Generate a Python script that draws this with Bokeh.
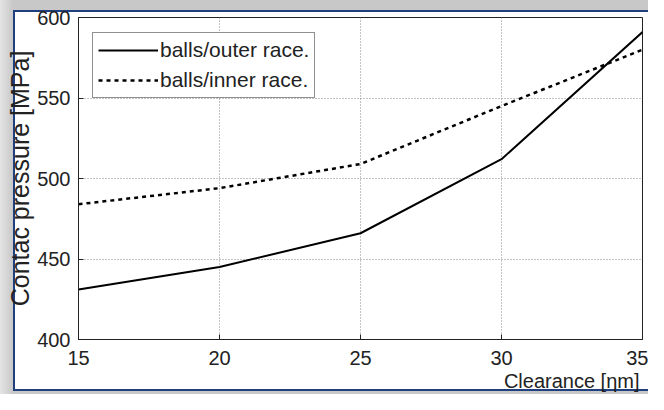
from bokeh.plotting import figure
from bokeh.models import FixedTicker, Legend, LegendItem, Range1d, Title
from bokeh.embed import file_html
from bokeh.resources import INLINE

clearance = [15, 20, 25, 30, 35]
outer_race = [431, 445, 466, 512, 591]
inner_race = [484, 494, 509, 545, 580]
x_ticks = [15, 20, 25, 30, 35]
y_ticks = [400, 450, 500, 550, 600]

FONT = "Liberation Sans"
NAVY = "#1f3f7f"

p = figure(width=648, height=394, output_backend="svg", toolbar_location=None,
           x_range=Range1d(15, 35), y_range=Range1d(400, 600),
           min_border_left=78, min_border_top=17, min_border_right=6, min_border_bottom=55)

p.border_fill_alpha = 0
p.background_fill_color = "white"
p.outline_line_color = "#222222"
p.outline_line_width = 1
p.styles = {
    "background": (
        f"linear-gradient({NAVY},{NAVY}) 13px 10px / 2px 381px no-repeat, "
        f"linear-gradient({NAVY},{NAVY}) 13px 10px / 100% 2px no-repeat, "
        f"linear-gradient({NAVY},{NAVY}) 13px 389px / 100% 2px no-repeat, "
        "linear-gradient(#ffffff,#ffffff) 13px 10px / 100% 381px no-repeat, "
        "linear-gradient(90deg, #e4e4e4, #c8c8c8 13px)"
    )
}

for ax in (p.xaxis[0], p.yaxis[0]):
    ax.major_label_text_font = FONT
    ax.major_label_text_font_size = "20px"
    ax.major_label_text_color = "#222222"
    ax.axis_label_text_font = FONT
    ax.axis_label_text_font_style = "normal"
    ax.axis_label_text_color = "#222222"
    ax.axis_line_color = "#222222"
    ax.major_tick_line_color = "#222222"
    ax.major_tick_in = 5
    ax.major_tick_out = 0
    ax.minor_tick_line_color = None

p.xaxis.ticker = FixedTicker(ticks=x_ticks)
p.yaxis.ticker = FixedTicker(ticks=y_ticks)
p.xaxis.major_label_standoff = 11
p.yaxis.axis_label = "Contac pressure [MPa]"
p.yaxis.axis_label_text_font_size = "25px"
p.yaxis.major_label_standoff = 8
p.yaxis.axis_label_standoff = 0

x_title = Title(text="Clearance [ηm]", align="right", offset=3, standoff=0,
                text_font=FONT, text_font_size="20px", text_font_style="normal",
                text_color="#222222")
p.add_layout(x_title, "below")

p.grid.grid_line_color = "#888888"
p.grid.grid_line_dash = "1 2"
p.grid.grid_line_width = 1

r1 = p.line(clearance, outer_race, line_color="black", line_width=2)
r2 = p.line(clearance, inner_race, line_color="black", line_width=2.5, line_dash="4 4")

legend = Legend(items=[LegendItem(label="balls/outer race.", renderers=[r1]),
                       LegendItem(label="balls/inner race.", renderers=[r2])],
                location=(14, 241), padding=5, spacing=6,
                glyph_width=60, glyph_height=24, label_height=24, label_standoff=2,
                label_text_font=FONT, label_text_font_size="21px", label_text_color="#222222",
                border_line_color="#222222", border_line_width=1,
                background_fill_color="white", background_fill_alpha=1.0)
p.add_layout(legend, "center")

open("out.html", "w").write(file_html(p, INLINE))
